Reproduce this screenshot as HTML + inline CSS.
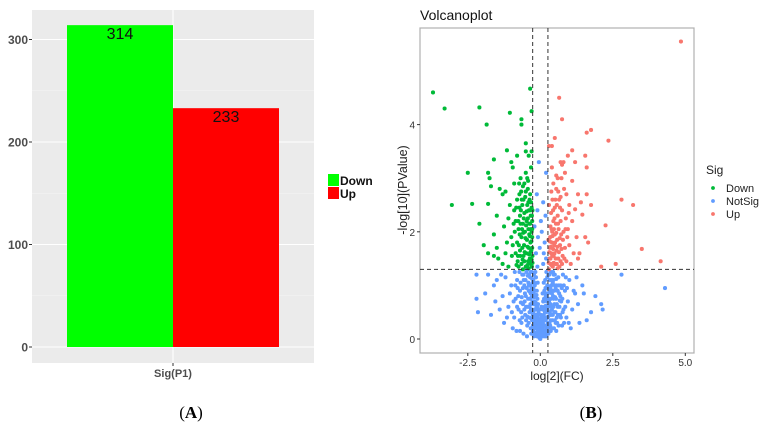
<!DOCTYPE html>
<html><head><meta charset="utf-8">
<style>
body{margin:0;background:#fff;width:766px;height:431px;overflow:hidden;font-family:"Liberation Sans",sans-serif}
svg{display:block}
</style></head>
<body>
<svg id="root" width="766" height="431">
<g id="A"></g>
<g id="B"></g>
<text x="191" y="418" font-family="Liberation Serif,serif" font-size="17" text-anchor="middle">(<tspan font-weight="bold">A</tspan>)</text>
<text x="591" y="418" font-family="Liberation Serif,serif" font-size="17" text-anchor="middle">(<tspan font-weight="bold">B</tspan>)</text>
</svg>
<script>
// ---- Chart A data ----
const barCats=["Down","Up"];
const barVals=[314,233];
const barColors=["#00ff00","#ff0000"];
const barTicks=[0,100,200,300];
// ---- Chart B data ----
const xTicks=[-2.5,0.0,2.5,5.0];
const yTicks=[0,2,4];
const fcCut=0.263, pCut=1.3;
const downPts=[[-3.7,4.6],[-3.3,4.3],[-2.1,4.32],[-1.85,4.0],[-1.05,4.22],[-0.65,4.1],[-0.65,4.0],[-0.35,4.67],[-0.3,4.25],[-2.5,3.1],[-3.05,2.5],[-2.35,2.52],[-1.8,3.1],[-1.75,3.0],[-1.6,3.35],[-1.8,2.52],[-1.7,2.85],[-2.1,2.15],[-1.95,1.75],[-1.8,1.6],[-1.6,1.95],[-1.5,2.3],[-1.4,2.8],[-1.3,2.7],[-1.2,2.75],[-1.15,3.52],[-1.0,3.3],[-0.95,3.2],[-0.8,3.42],[-0.5,3.65],[-0.5,3.5],[-0.4,3.42],[-1.5,1.7],[-1.3,1.4],[-1.0,1.9],[-1.2,1.6],[-1.45,1.5],[-1.1,1.35],[-1.6,1.55],[-1.25,2.1],[-1.1,2.25],[-1.05,2.5],[-0.9,2.4],[-0.9,2.9],[-0.85,2.2],[-0.8,1.8],[-0.8,2.6],[-0.78,1.45],[-0.75,2.05],[-0.72,2.7],[-0.7,1.65],[-0.7,2.3],[-0.68,3.0],[-0.65,1.4],[-0.65,1.9],[-0.62,2.5],[-0.6,2.15],[-0.6,2.85],[-0.58,1.55],[-0.56,1.75],[-0.55,2.35],[-0.53,2.0],[-0.52,2.65],[-0.5,1.35],[-0.5,3.1],[-0.48,1.6],[-0.47,2.2],[-0.46,1.85],[-0.45,2.5],[-0.43,2.8],[-0.42,1.45],[-0.41,2.05],[-0.4,1.7],[-0.39,2.4],[-0.38,1.95],[-0.37,2.6],[-0.36,1.5],[-0.35,2.15],[-0.34,1.8],[-0.33,2.3],[-0.32,1.4],[-0.31,1.65],[-0.3,2.0],[-0.3,2.45],[-0.29,1.35],[-0.28,1.9],[-0.28,2.2],[-0.27,1.55],[-0.85,1.6],[-0.95,1.75],[-0.75,1.35],[-0.68,2.15],[-0.6,1.3],[-0.55,2.9],[-0.45,3.0],[-0.35,2.7],[-0.32,3.2],[-0.4,1.32],[-0.88,2.0],[-1.15,1.8],[-0.72,2.45],[-0.5,2.75],[-0.62,1.7],[-0.42,2.95],[-0.3,3.5],
[-0.82,1.38],[-0.77,1.55],[-0.74,1.75],[-0.71,1.95],[-0.67,2.4],[-0.64,2.6],[-0.61,1.48],[-0.59,1.98],[-0.57,2.25],[-0.54,1.62],[-0.51,1.88],[-0.49,2.12],[-0.47,2.38],[-0.44,1.38],[-0.44,1.72],[-0.43,2.25],[-0.41,2.55],[-0.39,1.58],[-0.38,2.15],[-0.37,1.42],[-0.36,1.92],[-0.35,2.4],[-0.34,1.62],[-0.33,2.05],[-0.32,2.55],[-0.31,1.82],[-0.3,1.48],[-0.29,2.3],[-0.28,1.7],[-0.28,2.05],[-0.27,2.4],[-0.27,1.42],[-0.55,1.45],[-0.63,2.05],[-0.69,1.55],[-0.76,2.2],[-0.83,2.45],[-0.92,2.15],[-0.98,1.55],[-0.73,2.9],[-0.66,2.75],[-0.58,2.6]];
const upPts=[[4.85,5.55],[0.65,4.5],[0.75,4.1],[1.75,3.9],[1.6,3.85],[2.35,3.7],[0.5,3.75],[0.3,3.6],[0.4,3.6],[1.1,3.52],[0.95,3.42],[1.55,3.42],[1.2,3.3],[1.6,3.2],[0.7,3.3],[0.75,3.25],[2.8,2.6],[3.2,2.5],[1.75,2.5],[1.6,2.7],[2.25,2.12],[3.5,1.68],[4.15,1.45],[2.6,1.4],[2.1,1.35],[1.3,1.5],[1.55,1.9],[1.65,1.8],[1.45,2.32],[1.2,2.42],[1.0,2.5],[0.9,2.7],[0.6,3.0],[1.1,2.2],[1.25,1.9],[1.0,1.75],[1.35,1.6],[0.95,2.05],[1.3,2.7],[1.1,2.95],[0.85,3.1],[0.3,1.3],[0.32,1.5],[0.33,1.7],[0.34,1.9],[0.35,2.1],[0.36,1.4],[0.37,2.35],[0.38,1.6],[0.4,1.8],[0.41,2.0],[0.42,2.6],[0.43,1.35],[0.45,2.2],[0.46,1.55],[0.48,1.75],[0.5,2.45],[0.5,1.95],[0.52,1.4],[0.54,2.15],[0.55,2.8],[0.56,1.65],[0.58,1.85],[0.6,2.3],[0.62,1.5],[0.63,2.05],[0.65,2.6],[0.66,1.35],[0.68,1.75],[0.7,2.2],[0.72,1.95],[0.75,2.4],[0.77,1.55],[0.8,2.0],[0.82,2.8],[0.85,1.7],[0.88,2.25],[0.9,1.45],[0.93,1.9],[0.98,2.35],[0.45,2.9],[0.55,3.05],[0.4,3.2],[0.6,1.32],[0.75,1.4],[0.7,2.65],[0.52,2.6],[0.38,2.75],[0.3,2.5],[0.28,1.85],[1.05,1.4],[1.15,1.6],[0.8,3.3],[1.4,2.55],
[0.29,1.42],[0.31,1.62],[0.33,1.82],[0.35,1.5],[0.36,1.72],[0.38,1.38],[0.39,2.05],[0.41,1.55],[0.42,1.92],[0.44,1.68],[0.46,1.42],[0.47,2.05],[0.49,1.6],[0.51,1.8],[0.53,1.5],[0.55,1.98],[0.57,1.4],[0.59,1.72],[0.61,2.15],[0.64,1.62],[0.67,1.88],[0.7,1.45],[0.73,1.68],[0.78,1.85],[0.83,1.5],[0.87,2.05],[0.44,2.4],[0.49,2.25],[0.57,2.5],[0.68,2.45],[0.62,2.75],[0.73,3.0]];
const nsPts=[[4.3,0.95],[2.8,1.2],[-2.2,1.2],[-2.2,0.75],[-2.15,0.5],[-1.5,1.1],[-1.9,0.85],[-1.7,0.45],[2.1,0.65],[2.15,0.55],[1.75,0.5],[1.35,0.3],[1.5,0.85],[-1.25,0.3],[-1.4,0.55],[-0.05,3.3],[0.2,3.1],[0.1,2.55],[-0.1,2.4],[0.05,2.0],[0.15,1.8],[-0.15,1.6],[0.2,1.5],[-0.1,1.35],[0.1,1.4],[-0.2,2.1],[0.18,2.3],[-1.6,1.0],[-1.3,0.8],[-1.1,0.6],[-1.0,1.0],[-0.9,0.4],[-0.85,0.75],[-0.8,1.1],[-0.75,0.55],[-0.7,0.9],[-0.65,0.3],[-0.62,1.2],[-0.6,0.65],[-0.55,1.0],[-0.52,0.45],[-0.5,0.8],[-0.48,1.25],[-0.45,0.25],[-0.43,0.6],[-0.41,1.05],[-0.4,0.9],[-0.38,0.4],[-0.36,0.75],[-0.35,1.15],[-0.33,0.2],[-0.32,0.55],[-0.3,0.95],[-0.29,1.25],[-0.28,0.35],[-0.27,0.7],[-0.26,1.05],[-0.25,0.15],[-0.24,0.5],[-0.23,0.85],[-0.22,1.2],[-0.21,0.3],[-0.2,0.65],[-0.19,1.0],[-0.18,0.1],[-0.17,0.45],[-0.16,0.8],[-0.15,1.15],[-0.14,0.25],[-0.13,0.6],[-0.12,0.05],[-0.11,0.4],[-0.1,0.75],[-0.09,0.15],[-0.08,0.3],[-0.07,0.05],[-0.06,0.5],[-0.05,0.2],[-0.04,0.1],[-0.03,0.02],[-0.02,0.35],[-0.01,0.08],[0.0,0.0],[0.01,0.15],[0.02,0.05],[0.03,0.25],[0.04,0.1],[0.05,0.4],[0.06,0.2],[0.07,0.05],[0.08,0.55],[0.09,0.3],[0.1,0.15],[0.11,0.7],[0.12,0.45],[0.13,0.25],[0.14,0.9],[0.15,0.6],[0.16,0.1],[0.17,1.1],[0.18,0.35],[0.19,0.8],[0.2,0.5],[0.21,1.25],[0.22,0.2],[0.23,0.7],[0.24,1.0],[0.25,0.4],[0.26,0.85],[0.27,0.6],[0.28,1.2],[0.29,0.3],[0.3,0.95],[0.31,0.5],[0.32,0.75],[0.33,1.1],[0.34,0.25],[0.35,0.65],[0.37,1.25],[0.38,0.45],[0.4,0.85],[0.42,0.35],[0.43,1.05],[0.45,0.6],[0.47,0.2],[0.48,0.9],[0.5,1.2],[0.52,0.5],[0.54,0.75],[0.56,1.0],[0.58,0.3],[0.6,0.6],[0.62,1.15],[0.65,0.85],[0.68,0.45],[0.7,1.0],[0.72,0.7],[0.75,0.25],[0.78,1.2],[0.8,0.55],[0.85,0.9],[0.9,0.4],[0.95,0.7],[1.0,1.1],[1.05,0.2],[1.1,0.55],[1.2,0.85],[1.3,0.65],[1.25,1.15],[0.98,0.3],[-0.95,0.2],[-1.05,0.85],[-1.2,1.15],[-0.88,1.25],[-0.7,0.15],[-0.58,0.1],[-0.44,1.3],[-0.34,1.0],[-0.26,0.45],[-0.22,0.05],[-0.16,0.55],[-0.12,0.9],[-0.08,0.65],[-0.04,0.45],[0.04,0.6],[0.08,0.85],[0.12,1.05],[0.16,0.4],[0.2,0.05],[0.24,0.15],[0.28,0.1],[0.32,0.3],[0.36,0.15],[0.4,0.55],[0.44,0.8],[0.46,1.2],[0.5,0.35],[0.55,0.15],[0.6,0.9],[0.66,0.6],[0.74,0.95],[0.82,0.3],[0.88,1.15],[-0.98,0.5],[-0.78,0.95],[-0.66,0.5],[-0.54,0.7],[-0.46,0.05],[-0.37,0.6],[-0.31,0.1],[-0.27,0.9],[-0.21,0.7],[-0.19,0.35],[-0.13,0.2],[-0.09,1.05],[-0.06,0.25],[-0.02,0.15],[0.02,0.45],[0.06,0.3],[0.1,0.7],[0.14,0.05],[0.18,0.95],[0.22,0.55],[0.26,0.3],[0.3,0.7],[0.34,0.45],[0.38,1.0],[0.41,0.2],[0.45,1.1],[0.49,0.65],[0.53,0.95],[0.57,0.4],[0.63,0.25],[0.69,0.8],[0.77,0.5],[-0.57,1.1],[-0.49,0.35],[-0.39,1.2],[-0.33,0.85],[-0.24,1.1],[-0.17,1.25],[-1.35,1.2],[-0.82,0.15],[1.6,0.35],[1.45,1.0],[1.9,0.8],[-1.8,1.2],[-1.55,0.7],[-0.02,1.7],[0.02,2.2],[-0.08,1.9],[0.12,1.6],[-0.12,2.7],
[-0.72,1.25],[-0.68,1.05],[-0.64,0.78],[-0.6,0.95],[-0.58,1.2],[-0.55,0.55],[-0.53,0.85],[-0.51,1.1],[-0.49,0.6],[-0.47,0.95],[-0.45,0.42],[-0.43,1.18],[-0.42,0.75],[-0.4,0.3],[-0.39,1.0],[-0.37,0.5],[-0.36,0.88],[-0.34,0.65],[-0.33,1.25],[-0.31,0.38],[-0.3,0.78],[-0.29,0.55],[-0.28,1.12],[-0.26,0.25],[-0.25,0.65],[-0.24,0.95],[-0.23,0.4],[-0.22,0.78],[-0.21,1.05],[-0.2,0.2],[-0.19,0.55],[-0.18,0.9],[-0.17,0.3],[-0.16,0.68],[-0.15,0.12],[-0.14,0.45],[-0.13,0.82],[-0.12,0.32],[-0.11,0.6],[-0.1,0.1],[-0.09,0.45],[-0.08,0.2],[-0.07,0.38],[-0.06,0.1],[-0.05,0.3],[-0.04,0.22],[-0.03,0.12],[-0.02,0.05],[0.0,0.1],[0.02,0.22],[0.03,0.12],[0.05,0.3],[0.06,0.08],[0.07,0.42],[0.09,0.2],[0.1,0.55],[0.11,0.1],[0.12,0.35],[0.13,0.75],[0.15,0.25],[0.16,0.5],[0.17,0.85],[0.18,0.15],[0.19,0.62],[0.2,0.95],[0.21,0.38],[0.22,0.8],[0.23,0.25],[0.24,1.15],[0.25,0.55],[0.26,0.75],[0.27,0.42],[0.28,0.98],[0.29,0.62],[0.3,0.22],[0.31,1.2],[0.32,0.88],[0.33,0.5],[0.35,0.95],[0.36,0.35],[0.37,0.75],[0.39,1.1],[0.4,0.6],[0.41,0.9],[0.43,0.45],[0.44,1.25],[0.46,0.75],[0.48,0.5],[0.5,1.0],[0.51,0.78],[0.53,0.3],[0.55,1.12],[0.57,0.65],[0.59,0.9],[0.61,0.45],[0.64,1.0],[0.67,0.72],[0.71,0.4],[0.76,0.75],[0.81,1.0],[0.86,0.6],[-0.76,0.8],[-0.8,0.6],[-0.86,1.0],[-0.92,0.7],[-0.62,0.4],[-0.67,0.68],[-0.71,0.35],[-1.15,0.4],[1.15,0.9],[0.92,0.95],[-0.03,0.55],[0.01,0.35],[-0.01,0.25],[0.04,0.18]];

const NS="http://www.w3.org/2000/svg";
function mk(parent,tag,attrs){const e=document.createElementNS(NS,tag);for(const k in attrs)e.setAttribute(k,attrs[k]);parent.appendChild(e);return e;}

// ---- Chart A ----
const A=document.getElementById('A');
const aL=32,aR=314,aT=10,aB=363;
const ay=v=>347-v*1.025;
let bg=mk(A,'rect',{x:aL,y:aT,width:aR-aL,height:aB-aT,fill:'#ebebeb'});


[50,150,250].forEach(v=>{const l=mk(A,'line',{x1:aL,x2:aR,y1:ay(v),y2:ay(v),stroke:'#f5f5f5','stroke-width':0.6});

});
barTicks.forEach(v=>{const l=mk(A,'line',{x1:aL,x2:aR,y1:ay(v),y2:ay(v),stroke:'#fff','stroke-width':1.1});


const tk=mk(A,'line',{x1:aL-3,x2:aL,y1:ay(v),y2:ay(v),stroke:'#333','stroke-width':1});


const t=mk(A,'text',{x:aL-4,y:ay(v)+4.5,'text-anchor':'end','font-size':12,'font-weight':'bold',fill:'#4d4d4d'});t.textContent=v;

});
mk(A,'line',{x1:173,x2:173,y1:aT,y2:aB,stroke:'#fff','stroke-width':1.1});
const bw=106, bx0=67;
barVals.forEach((v,i)=>{const r=mk(A,'rect',{x:bx0+i*bw,y:ay(v),width:bw,height:ay(0)-ay(v),fill:barColors[i]});


const t=mk(A,'text',{x:bx0+i*bw+bw/2,y:ay(v)+14,'text-anchor':'middle','font-size':16,fill:'#111'});t.textContent=v;


const k=mk(A,'rect',{x:328,y:174+i*13,width:11,height:12,fill:barColors[i]});


const lt=mk(A,'text',{x:340,y:185+i*13,'font-size':12,'font-weight':'bold',fill:'#111'});lt.textContent=barCats[i];

});
mk(A,'line',{x1:173,x2:173,y1:aB,y2:aB+3,stroke:'#333'});
let xl=mk(A,'text',{x:173,y:377,'text-anchor':'middle','font-size':11,'font-weight':'bold',fill:'#4d4d4d'});xl.textContent='Sig(P1)';



// ---- Chart B ----
const B=document.getElementById('B');
const bL=420,bR=694,bT=28,bB=353;
const bx=v=>540.3+v*29, by=v=>339-v*53.6;
let fr=mk(B,'rect',{x:bL,y:bT,width:bR-bL,height:bB-bT,fill:'#fff',stroke:'#b0b0b0','stroke-width':1.2});


const series=[[nsPts,'#619cff','notsig-point'],[downPts,'#00ba38','down-point'],[upPts,'#f8766d','up-point']];
series.forEach(([pts,c,n])=>pts.forEach(p=>{const d=mk(B,'circle',{cx:bx(p[0]),cy:by(p[1]),r:2.05,fill:c});

}));
[-fcCut,fcCut].forEach(v=>{const l=mk(B,'line',{x1:bx(v),x2:bx(v),y1:bT,y2:bB,stroke:'#333','stroke-dasharray':'4,3','stroke-width':1});

});
let hl=mk(B,'line',{x1:bL,x2:bR,y1:by(pCut),y2:by(pCut),stroke:'#333','stroke-dasharray':'4,3','stroke-width':1});


xTicks.forEach(v=>{mk(B,'line',{x1:bx(v),x2:bx(v),y1:bB,y2:bB+3,stroke:'#333'});
const t=mk(B,'text',{x:bx(v),y:bB+13,'text-anchor':'middle','font-size':10,fill:'#333'});t.textContent=v.toFixed(1);

});
yTicks.forEach(v=>{mk(B,'line',{x1:bL-3,x2:bL,y1:by(v),y2:by(v),stroke:'#333'});
const t=mk(B,'text',{x:bL-5,y:by(v)+4,'text-anchor':'end','font-size':10,fill:'#333'});t.textContent=v;

});
let tt=mk(B,'text',{x:420,y:20,'font-size':14,fill:'#111'});tt.textContent='Volcanoplot';


let bxl=mk(B,'text',{x:557,y:380,'text-anchor':'middle','font-size':12,fill:'#222'});bxl.textContent='log[2](FC)';


let byl=mk(B,'text',{x:0,y:0,'text-anchor':'middle','font-size':12.5,fill:'#222',transform:'translate(407,190) rotate(-90)'});byl.textContent='-log[10](PValue)';


let lg=mk(B,'text',{x:706,y:174,'font-size':12,fill:'#222'});lg.textContent='Sig';


[['Down','#00ba38'],['NotSig','#619cff'],['Up','#f8766d']].forEach((e,i)=>{
const c=mk(B,'circle',{cx:713,cy:188+i*13,r:1.9,fill:e[1]});


const t=mk(B,'text',{x:726,y:192+i*13,'font-size':11,fill:'#222'});t.textContent=e[0];

});
</script>
</body></html>
